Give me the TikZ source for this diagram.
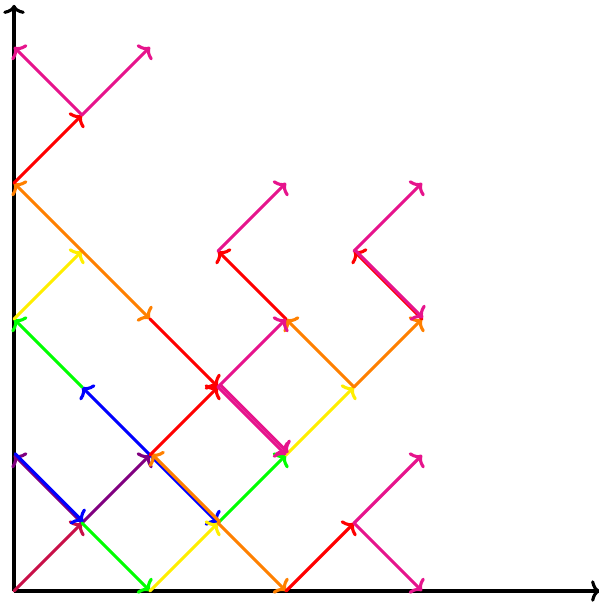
\documentclass[tikz,border=0pt]{standalone}
\usepackage{xcolor}
\definecolor{raycrimson}{RGB}{200,16,72}
\definecolor{raypurple}{RGB}{128,0,128}
\definecolor{rayblue}{RGB}{0,0,255}
\definecolor{raygreen}{RGB}{0,255,0}
\definecolor{rayyellow}{RGB}{255,238,0}
\definecolor{rayorange}{RGB}{255,128,0}
\definecolor{rayred}{RGB}{255,0,0}
\definecolor{raypink}{RGB}{230,20,140}
\usepackage{tikz}
\usetikzlibrary{arrows.meta}

\begin{document}
\begin{tikzpicture}[
  ray/.style={line width=1.3pt, line cap=round, -{To[length=3.8pt,width=9pt]}},
  axis/.style={line width=1.3pt, black, -{To[length=3.8pt,width=9pt]}}]

\useasboundingbox (-0.206,-0.176) rectangle (8.588,8.691);

% ===== Grid points =====
\foreach \i in {0,...,6}
  \foreach \j in {0,...,8}
    \coordinate (p\i\j) at (\i,\j);
\coordinate (xend) at (8.62,0);
\coordinate (yend) at (0,8.62);

% ===== Axes =====
\draw[axis] (p00) -- (xend);
\draw[axis] (p00) -- (yend);

% ===== Rays (from/to/colour/shift in pt) =====
\foreach \a/\b/\c/\s in {p00/p11/raycrimson/0,
    p11/p22/raypurple/0, p11/p02/raypurple/0,
    p02/p11/rayblue/0.5, p22/p31/rayblue/0, p22/p13/rayblue/0,
    p11/p20/raygreen/0, p13/p04/raygreen/0, p31/p42/raygreen/0,
    p20/p31/rayyellow/0, p04/p15/rayyellow/0, p42/p53/rayyellow/0,
    p31/p22/rayorange/0.6, p31/p40/rayorange/0, p15/p06/rayorange/0,
    p15/p24/rayorange/0, p53/p44/rayorange/0, p53/p64/rayorange/0,
    p22/p33/rayred/0, p24/p33/rayred/0, p40/p51/rayred/0,
    p06/p17/rayred/0, p44/p35/rayred/0, p64/p55/rayred/0,
    p33/p44/raypink/0, p33/p42/raypink/0, p33/p42/raypink/0.9,
    p51/p62/raypink/0, p51/p60/raypink/0, p17/p08/raypink/0,
    p17/p28/raypink/0, p35/p46/raypink/0, p55/p66/raypink/0,
    p55/p64/raypink/0.4} {
  \draw[ray, \c, transform canvas={shift={(\s pt,\s pt)}}] (\a) -- (\b);
}

\end{tikzpicture}
\end{document}
